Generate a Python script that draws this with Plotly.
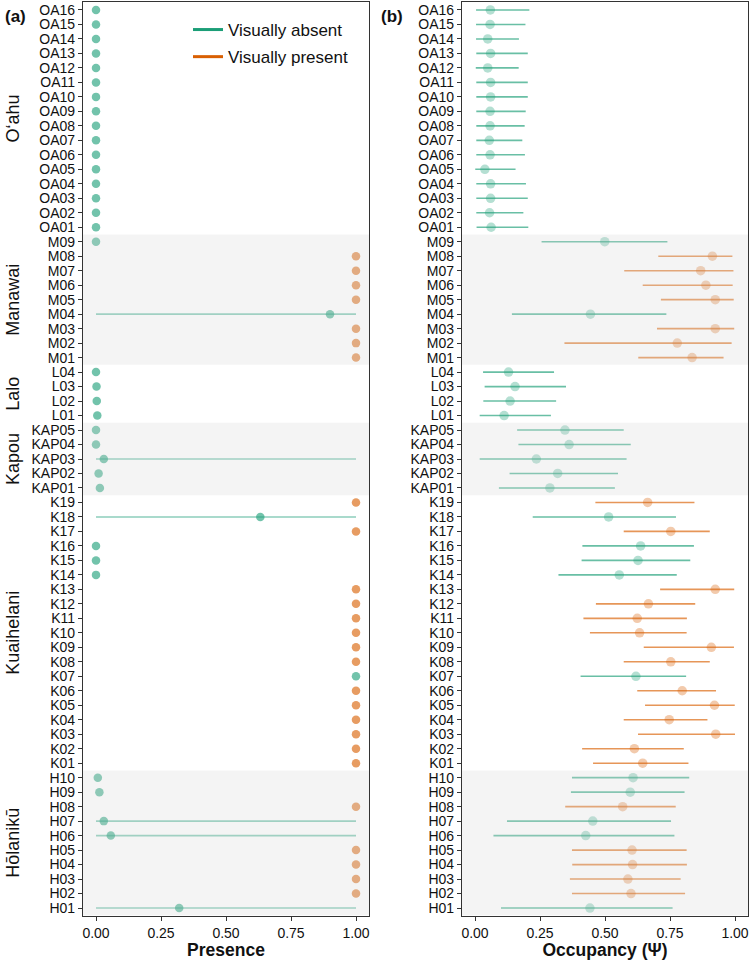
import plotly.graph_objects as go

# sites listed bottom -> top, grouped by island
groups = ["Hōlanikū", "Kuaihelani", "Kapou", "Lalo", "Manawai", "Oʻahu"]
prefixes = ["H", "K", "KAP", "L", "M", "OA"]
counts = [10, 19, 5, 4, 9, 16]
shaded = [True, False, True, False, True, False]

sites = []
for p, n in zip(prefixes, counts):
    sites += [f"{p}{i:02d}" for i in range(1, n + 1)]

# A = visually absent, P = visually present
status = list(
    "APPPPAAPAA"               # H01-H10
    "PPPPPPAPPPPPPAAAPAP"      # K01-K19
    "AAAAA"                    # KAP01-KAP05
    "AAAA"                     # L01-L04
    "PPPAPPPPA"                # M01-M09
    "AAAAAAAAAAAAAAAA"         # OA01-OA16
)

# panel (a): presence estimate with interval
presence = [0.32, 1, 1, 1, 1, 0.057, 0.03, 1, 0.013, 0.007,
            1, 1, 1, 1, 1, 1, 1, 1, 1, 1, 1, 1, 1, 0, 0, 0, 1, 0.632, 1,
            0.015, 0.01, 0.03, 0, 0,
            0.005, 0.003, 0.002, 0,
            1, 1, 1, 0.90, 1, 1, 1, 1, 0,
            0, 0, 0, 0, 0, 0, 0, 0, 0, 0, 0, 0, 0, 0, 0, 0]
presence_lo = [0, 1, 1, 1, 1, 0, 0, 1, 0.013, 0.007,
               1, 1, 1, 1, 1, 1, 1, 1, 1, 1, 1, 1, 1, 0, 0, 0, 1, 0, 1,
               0.015, 0.01, 0, 0, 0,
               0.005, 0.003, 0.002, 0,
               1, 1, 1, 0, 1, 1, 1, 1, 0,
               0, 0, 0, 0, 0, 0, 0, 0, 0, 0, 0, 0, 0, 0, 0, 0]
presence_hi = [1, 1, 1, 1, 1, 1, 1, 1, 0.013, 0.007,
               1, 1, 1, 1, 1, 1, 1, 1, 1, 1, 1, 1, 1, 0, 0, 0, 1, 1, 1,
               0.015, 0.01, 1, 0, 0,
               0.005, 0.003, 0.002, 0,
               1, 1, 1, 1, 1, 1, 1, 1, 0,
               0, 0, 0, 0, 0, 0, 0, 0, 0, 0, 0, 0, 0, 0, 0, 0]

# panel (b): occupancy (psi) with interval
psi = [0.442, 0.600, 0.588, 0.606, 0.604, 0.426, 0.453, 0.568, 0.597, 0.608,
       0.645, 0.613, 0.926, 0.747, 0.921, 0.797, 0.619, 0.753, 0.909, 0.633,
       0.624, 0.667, 0.924, 0.555, 0.627, 0.637, 0.753, 0.514, 0.664,
       0.288, 0.318, 0.236, 0.362, 0.346,
       0.112, 0.135, 0.154, 0.129,
       0.835, 0.778, 0.924, 0.444, 0.924, 0.888, 0.868, 0.913, 0.499,
       0.062, 0.056, 0.060, 0.060, 0.038, 0.058, 0.055, 0.058, 0.058, 0.060,
       0.060, 0.049, 0.060, 0.049, 0.058, 0.059]
psi_lo = [0.100, 0.373, 0.365, 0.374, 0.373, 0.071, 0.123, 0.347, 0.369, 0.373,
          0.454, 0.412, 0.627, 0.572, 0.654, 0.624, 0.406, 0.572, 0.649, 0.442,
          0.417, 0.465, 0.712, 0.321, 0.410, 0.413, 0.572, 0.222, 0.463,
          0.092, 0.133, 0.018, 0.167, 0.162,
          0.018, 0.032, 0.037, 0.031,
          0.628, 0.344, 0.700, 0.142, 0.715, 0.645, 0.574, 0.705, 0.256,
          0.006, 0.005, 0.005, 0.005, 0.001, 0.005, 0.005, 0.005, 0.005, 0.005,
          0.005, 0.003, 0.005, 0.004, 0.004, 0.004]
psi_hi = [0.760, 0.808, 0.791, 0.815, 0.814, 0.767, 0.754, 0.772, 0.806, 0.824,
          0.821, 0.803, 1.000, 0.894, 0.999, 0.927, 0.812, 0.903, 0.996, 0.814,
          0.815, 0.847, 0.997, 0.776, 0.828, 0.842, 0.903, 0.773, 0.844,
          0.538, 0.550, 0.583, 0.599, 0.572,
          0.292, 0.312, 0.350, 0.304,
          0.956, 0.987, 0.997, 0.736, 0.995, 0.991, 0.994, 0.990, 0.740,
          0.205, 0.186, 0.203, 0.196, 0.156, 0.192, 0.182, 0.191, 0.195, 0.203,
          0.203, 0.168, 0.203, 0.169, 0.194, 0.209]

x_ticks = [0, 0.25, 0.5, 0.75, 1]

GREEN = (27, 158, 119)
ORANGE = (217, 95, 2)
labels = {"A": "Visually absent", "P": "Visually present"}
rgb = {"A": GREEN, "P": ORANGE}


def rgba(c, a):
    return f"rgba({c[0]},{c[1]},{c[2]},{a})"


def interval_trace(val, lo, hi, code, xaxis, yaxis, pt_alpha, line_alpha, size):
    idx = [i for i, s in enumerate(status) if s == code]
    v = [val[i] for i in idx]
    return go.Scatter(
        x=v, y=[sites[i] for i in idx],
        xaxis=xaxis, yaxis=yaxis, mode="markers", showlegend=False,
        marker=dict(size=size, color=rgba(rgb[code], pt_alpha), line=dict(width=0)),
        error_x=dict(type="data", symmetric=False,
                     array=[hi[i] - val[i] for i in idx],
                     arrayminus=[val[i] - lo[i] for i in idx],
                     color=rgba(rgb[code], line_alpha), thickness=1.6, width=0),
        hoverinfo="x+y",
    )


fig = go.Figure()
for code in ["A", "P"]:
    fig.add_trace(interval_trace(presence, presence_lo, presence_hi, code, "x", "y", 0.62, 0.5, 8.5))
    fig.add_trace(interval_trace(psi, psi_lo, psi_hi, code, "x2", "y2", 0.33, 0.66, 9.5))

# line-only entries for the legend
for code in ["A", "P"]:
    fig.add_trace(go.Scatter(x=[None], y=[None], mode="lines", name=labels[code],
                             legendgroup=code,
                             line=dict(color=rgba(rgb[code], 1), width=3)))

# grey bands over alternate island groups (drawn over points like the original)
shapes = []
annotations = []
start = 0
for g, n, sh in zip(groups, counts, shaded):
    if sh:
        for xr in ["x domain", "x2 domain"]:
            yr = "y" if xr == "x domain" else "y2"
            shapes.append(dict(type="rect", xref=xr, yref=yr, x0=0, x1=1,
                               y0=start - 0.5, y1=start + n - 0.5, layer="above",
                               line=dict(width=0), fillcolor="rgba(215,215,215,0.27)"))
    annotations.append(dict(text=g, xref="paper", yref="y", x=13 / 751,
                            y=start + (n - 1) / 2, textangle=-90, showarrow=False,
                            font=dict(size=18, color="#111"), xanchor="center", yanchor="middle"))
    start += n

annotations.append(dict(text="<b>(a)</b>", xref="paper", yref="paper", x=3 / 751, y=1 - 16 / 960,
                        xanchor="left", yanchor="middle", showarrow=False,
                        font=dict(size=17, color="#111")))
annotations.append(dict(text="<b>(b)</b>", xref="paper", yref="paper", x=379 / 751, y=1 - 16 / 960,
                        xanchor="left", yanchor="middle", showarrow=False,
                        font=dict(size=17, color="#111")))

ydom = [1 - 916 / 960, 1 - 2 / 960]
yrange = [-0.55, len(sites) - 0.45]

axis_common = dict(showline=True, mirror=True, linecolor="#333", linewidth=1.2,
                   ticks="outside", ticklen=4, tickcolor="#333", tickwidth=1,
                   showgrid=False, zeroline=False, automargin=False,
                   tickfont=dict(size=14, color="#111"))

xcommon = dict(axis_common, range=[-0.05, 1.05], tickvals=x_ticks, tickformat=".2f")
ycommon = dict(axis_common, type="category", categoryorder="array", categoryarray=sites,
               range=yrange, domain=ydom, tickmode="linear", tick0=0, dtick=1)

fig.update_layout(
    width=751, height=960,
    margin=dict(l=0, r=0, t=0, b=0),
    paper_bgcolor="white", plot_bgcolor="white",
    font=dict(family="Liberation Sans, Arial, sans-serif", color="#111"),
    xaxis=dict(xcommon, domain=[83 / 751, 369 / 751], anchor="y",
               title=dict(text="<b>Presence</b>", font=dict(size=17.5), standoff=5)),
    xaxis2=dict(xcommon, domain=[462 / 751, 748 / 751], anchor="y2",
                title=dict(text="<b>Occupancy (Ψ)</b>", font=dict(size=17.5), standoff=5)),
    yaxis=dict(ycommon, anchor="x"),
    yaxis2=dict(ycommon, anchor="x2"),
    shapes=shapes,
    annotations=annotations,
    legend=dict(x=188 / 751, y=1 - 12 / 960, xanchor="left", yanchor="top",
                bgcolor="rgba(0,0,0,0)", font=dict(size=17, color="#111"),
                itemwidth=30, traceorder="grouped", tracegroupgap=2),
)

# drop the browser's default body margin so the figure sits at the page corner
fig.write_html("out.html", config={"displayModeBar": False},
               post_script="document.body.style.margin='0';")
